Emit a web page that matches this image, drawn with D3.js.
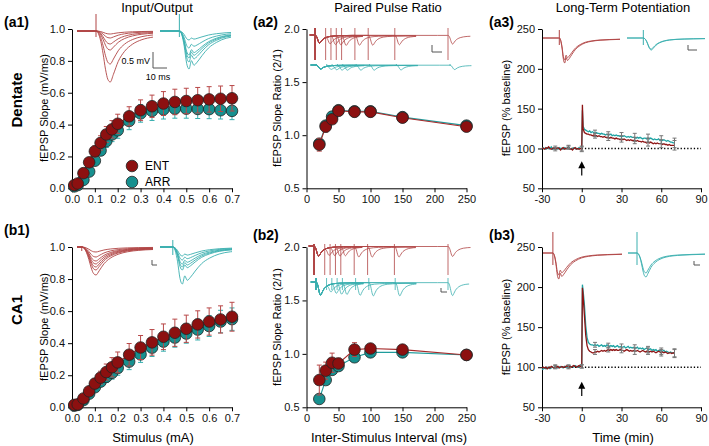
<!DOCTYPE html>
<html>
<head>
<meta charset="utf-8">
<script src="https://cdn.jsdelivr.net/npm/d3@7"></script>
<style>
  body { margin: 0; background: #fff; }
  svg { font-family: "Liberation Sans", Arial, sans-serif; }
  .axis path, .axis line { stroke: #000; stroke-width: 1; }
  .axis text { font-size: 11px; fill: #111; }
</style>
</head>
<body>
<script>
// ---- input/output data ----
var stim = [0.01, 0.025, 0.05, 0.075, 0.1, 0.125, 0.15, 0.175, 0.2, 0.25, 0.3, 0.35, 0.4, 0.45, 0.5, 0.55, 0.6, 0.65, 0.7];
var dgEnt    = [0.02, 0.03, 0.095, 0.163, 0.232, 0.285, 0.338, 0.37, 0.405, 0.452, 0.49, 0.515, 0.532, 0.542, 0.548, 0.553, 0.558, 0.562, 0.565];
var dgEntErr = [0.005, 0.008, 0.015, 0.025, 0.035, 0.045, 0.05, 0.055, 0.06, 0.06, 0.065, 0.07, 0.075, 0.08, 0.08, 0.08, 0.08, 0.08, 0.08];
var dgArr    = [0.012, 0.02, 0.053, 0.105, 0.173, 0.237, 0.296, 0.338, 0.364, 0.423, 0.47, 0.486, 0.495, 0.5, 0.5, 0.498, 0.497, 0.49, 0.486];
var dgArrErr = [0.005, 0.008, 0.012, 0.02, 0.025, 0.03, 0.04, 0.045, 0.05, 0.055, 0.055, 0.06, 0.06, 0.06, 0.06, 0.06, 0.06, 0.055, 0.055];
var caEnt    = [0.015, 0.018, 0.055, 0.1, 0.148, 0.185, 0.22, 0.25, 0.28, 0.328, 0.373, 0.405, 0.44, 0.465, 0.49, 0.517, 0.535, 0.548, 0.565];
var caEntErr = [0.005, 0.008, 0.015, 0.02, 0.03, 0.04, 0.05, 0.06, 0.065, 0.07, 0.075, 0.08, 0.08, 0.085, 0.085, 0.085, 0.085, 0.085, 0.09];
var caArr    = [0.01, 0.015, 0.045, 0.085, 0.125, 0.16, 0.19, 0.215, 0.245, 0.285, 0.33, 0.372, 0.41, 0.435, 0.46, 0.485, 0.507, 0.535, 0.55];
var caArrErr = [0.005, 0.008, 0.01, 0.015, 0.02, 0.03, 0.035, 0.04, 0.045, 0.05, 0.05, 0.055, 0.06, 0.06, 0.06, 0.065, 0.065, 0.07, 0.07];

// ---- paired pulse data ----
var isi = [20, 30, 40, 50, 75, 100, 150, 250];
var ppDgEnt    = [0.91, 1.08, 1.15, 1.23, 1.22, 1.22, 1.165, 1.08];
var ppDgEntErr = [0.06, 0.05, 0.03, 0.02, 0.02, 0.02, 0.02, 0.02];
var ppDgArr    = [0.92, 1.09, 1.175, 1.235, 1.225, 1.225, 1.17, 1.09];
var ppDgArrErr = [0.04, 0.03, 0.03, 0.02, 0.02, 0.02, 0.02, 0.02];
var ppCaEnt    = [0.755, 0.843, 0.917, 0.91, 1.04, 1.05, 1.04, 0.99];
var ppCaEntErr = [0.14, 0.08, 0.09, 0.05, 0.065, 0.03, 0.03, 0.02];
var ppCaArr    = [0.578, 0.755, 0.85, 0.886, 0.968, 1.014, 1.014, 0.99];
var ppCaArrErr = [0.03, 0.04, 0.03, 0.03, 0.03, 0.03, 0.02, 0.02];

// ---- LTP data (one sample per minute, peak at 0.5 min) ----
var ltpTime = d3.range(-30, 1).concat([0.5], d3.range(1, 71));
var ltpDgEnt = [101,100,99,101,100,102,100,99,100,101,99,100,101,100,98,100,101,99,100,100,101,99,100,98,100,101,99,100,99,100,99,
  155,
  125,120,119,118,118,117,117,116,117,116,
  116,115,116,115,115,114,115,114,114,114,
  113,114,113,113,112,113,112,112,111,112,
  111,112,111,110,111,110,111,110,110,110,
  109,110,109,109,108,109,108,108,107,108,
  107,108,107,106,107,106,107,106,106,106,
  105,106,105,105,104,105,104,104,104,104];
var ltpDgArr = [100,101,100,99,101,100,100,102,99,100,101,100,99,101,100,100,99,101,100,100,102,100,99,100,101,100,100,99,101,100,100,
  148,
  128,124,123,122,121,122,120,121,120,119,
  120,119,119,118,119,118,118,117,118,117,
  117,118,116,117,116,117,116,116,115,116,
  115,116,115,114,115,114,115,114,114,114,
  113,114,113,114,113,112,113,113,112,113,
  112,113,112,111,112,111,111,112,110,111,
  110,111,110,109,110,109,108,108,107,107];
var ltpCaEnt = [99,100,99,100,98,100,99,101,100,99,100,100,101,99,100,101,100,100,101,102,100,101,100,101,102,101,100,101,102,101,101,
  199,
  190,165,140,127,122,120,119,118,118,119,
  119,120,119,120,121,120,121,120,121,122,
  121,122,121,122,121,122,121,121,122,121,
  121,120,121,122,121,120,121,120,121,120,
  120,121,120,119,120,121,120,119,120,120,
  119,120,119,120,119,118,119,120,119,118,
  119,118,119,118,117,118,118,117,118,117];
var ltpCaArr = [97,98,99,98,100,99,98,99,100,99,101,100,99,100,101,100,99,101,100,100,101,102,100,101,100,102,101,100,101,102,101,
  203,
  196,178,152,137,131,129,128,128,127,128,
  127,128,126,127,128,126,127,126,128,127,
  126,127,126,127,125,126,127,125,126,125,
  125,126,124,125,126,124,125,124,125,124,
  124,125,123,124,123,124,122,123,124,122,
  122,123,121,122,121,122,120,121,121,120,
  120,121,119,120,119,118,119,118,118,118];
var ltpErrTime = [-20, -10, 0, 10, 20, 30, 40, 50, 60, 70];
var ltpDgEntErr = [2, 2, 3, 3, 4, 4, 4, 5, 5, 6];
var ltpDgArrErr = [2, 2, 3, 4, 4, 4, 5, 5, 5, 6];
var ltpCaEntErr = [2, 2, 2, 3, 3, 3, 4, 4, 4, 5];
var ltpCaArrErr = [2, 2, 2, 3, 3, 4, 4, 4, 4, 5];
var tetanusAt = 0;

// ---- tick labels ----
var ioTicksX = [0, 0.1, 0.2, 0.3, 0.4, 0.5, 0.6, 0.7];
var ioTicksY = [0, 0.2, 0.4, 0.6, 0.8, 1.0];
var ppTicksX = [0, 50, 100, 150, 200, 250];
var ppTicksY = [0.5, 1.0, 1.5, 2.0];
var ltpTicksX = [-30, 0, 30, 60, 90];
var ltpTicksY = [50, 100, 150, 200, 250];

// ---- example trace shape (ms after stimulus, normalised) ----
var tmplT     = [-20, -1, 0, 1.5, 3, 4.5, 6, 7.5, 9, 11, 14, 18, 23, 29, 36, 45, 55, 70];
var tmplEpsp  = [0, 0, 0, -0.05, -0.2, -0.45, -0.75, -0.95, -1, -0.85, -0.6, -0.4, -0.26, -0.17, -0.12, -0.09, -0.07, -0.05];
var tmplSpike = [0, 0, 0, -0.1, -0.4, -0.85, -1, -0.78, -0.9, -0.82, -0.65, -0.45, -0.3, -0.19, -0.13, -0.09, -0.07, -0.05];

var entFill = "#8c1010", arrFill = "#17908f";
var entLine = "#a62a2a", arrLine = "#1f9c9c";
var entErrC = "#b84848", arrErrC = "#35aeae";
var entTrace = "#b04444", arrTrace = "#3aafaf";

var svg = d3.select("body").append("svg").attr("width", 709).attr("height", 446);

var cols = [[72, 232], [306.5, 466.5], [542, 701]];
var rows = [[188.3, 29], [407.3, 247]];

function axes(col, row, xd, yd, xt, yt, xf, yf) {
  var x = d3.scaleLinear().domain(xd).range(cols[col]);
  var y = d3.scaleLinear().domain(yd).range(rows[row]);
  svg.append("g").attr("class", "axis")
     .attr("transform", `translate(0,${rows[row][0]})`)
     .call(d3.axisBottom(x).tickValues(xt).tickFormat(xf).tickSize(4).tickSizeOuter(0));
  svg.append("g").attr("class", "axis")
     .attr("transform", `translate(${cols[col][0]},0)`)
     .call(d3.axisLeft(y).tickValues(yt).tickFormat(yf).tickSize(4).tickSizeOuter(0));
  return { x: x, y: y };
}

function series(s, xs, ys, errs, lineC, fill, errC) {
  var g = svg.append("g");
  g.selectAll(".err").data(xs).enter().append("line")
   .attr("x1", d => s.x(d)).attr("x2", d => s.x(d))
   .attr("y1", (d, i) => s.y(ys[i] - errs[i])).attr("y2", (d, i) => s.y(ys[i] + errs[i]))
   .attr("stroke", errC).attr("stroke-width", 1);
  g.selectAll(".capT").data(xs).enter().append("line")
   .attr("x1", d => s.x(d) - 2.5).attr("x2", d => s.x(d) + 2.5)
   .attr("y1", (d, i) => s.y(ys[i] + errs[i])).attr("y2", (d, i) => s.y(ys[i] + errs[i]))
   .attr("stroke", errC).attr("stroke-width", 1);
  g.selectAll(".capB").data(xs).enter().append("line")
   .attr("x1", d => s.x(d) - 2.5).attr("x2", d => s.x(d) + 2.5)
   .attr("y1", (d, i) => s.y(ys[i] - errs[i])).attr("y2", (d, i) => s.y(ys[i] - errs[i]))
   .attr("stroke", errC).attr("stroke-width", 1);
  g.append("path").datum(xs)
   .attr("d", d3.line().x(d => s.x(d)).y((d, i) => s.y(ys[i])))
   .attr("fill", "none").attr("stroke", lineC).attr("stroke-width", 1.1);
  g.selectAll("circle").data(xs).enter().append("circle")
   .attr("cx", d => s.x(d)).attr("cy", (d, i) => s.y(ys[i])).attr("r", 5.8)
   .attr("fill", fill).attr("stroke", "#222").attr("stroke-width", 0.8);
}

function ltpSeries(s, ys, color) {
  svg.append("path").datum(ltpTime)
     .attr("d", d3.line().x(d => s.x(d)).y((d, i) => s.y(ys[i])))
     .attr("fill", "none").attr("stroke", color).attr("stroke-width", 1.3);
}

function ltpErrors(s, ys, errs) {
  var g = svg.append("g").attr("stroke", "#777").attr("stroke-width", 1);
  ltpErrTime.forEach(function (t, i) {
    var v = ys[ltpTime.indexOf(t)];
    g.append("line").attr("x1", s.x(t)).attr("x2", s.x(t)).attr("y1", s.y(v - errs[i])).attr("y2", s.y(v + errs[i]));
    g.append("line").attr("x1", s.x(t) - 2).attr("x2", s.x(t) + 2).attr("y1", s.y(v - errs[i])).attr("y2", s.y(v - errs[i]));
    g.append("line").attr("x1", s.x(t) - 2).attr("x2", s.x(t) + 2).attr("y1", s.y(v + errs[i])).attr("y2", s.y(v + errs[i]));
  });
}

function ltpExtras(s, from, to) {
  svg.append("line").attr("x1", s.x(-30)).attr("x2", s.x(90))
     .attr("y1", s.y(100)).attr("y2", s.y(100))
     .attr("stroke", "#000").attr("stroke-width", 1.3).attr("stroke-dasharray", "1.3,2");
  var ax = s.x(tetanusAt);
  svg.append("line").attr("x1", ax).attr("x2", ax).attr("y1", s.y(from)).attr("y2", s.y(to) + 5)
     .attr("stroke", "#000").attr("stroke-width", 1.2);
  svg.append("path").attr("d", `M${ax},${s.y(to)}L${ax - 3.5},${s.y(to) + 7}L${ax + 3.5},${s.y(to) + 7}Z`)
     .attr("fill", "#000");
}

function traceInset(o) {
  var tx = d3.scaleLinear().domain(o.t).range(o.x);
  var sh = d3.scaleLinear().domain(tmplT).range(o.shape).clamp(true);
  var ts = [o.t[0]].concat(tmplT.filter(t => t > o.t[0] && t < o.t[1]), [o.t[1]]);
  var g = svg.append("g");
  o.depths.forEach(function (dep) {
    var ty = d3.scaleLinear().domain([0, -1]).range([o.base, o.base + dep]);
    g.append("path").datum(ts)
     .attr("d", d3.line().x(t => tx(t)).y(t => ty(sh(t))).curve(d3.curveMonotoneX))
     .attr("fill", "none").attr("stroke", o.color).attr("stroke-width", 0.9);
  });
  g.append("line").attr("x1", tx(0)).attr("x2", tx(0))
   .attr("y1", o.base - o.art[0]).attr("y2", o.base + o.art[1])
   .attr("stroke", o.color).attr("stroke-width", 1);
}

function ppInset(o) {
  var tx = d3.scaleLinear().domain([0, 250]).range(o.x);
  var sh = d3.scaleLinear().domain(tmplT).range(tmplEpsp).clamp(true);
  var ty = d3.scaleLinear().domain([0, -1]).range([o.base, o.base + o.depth]);
  var g = svg.append("g");
  isi.forEach(function (s, i) {
    var end = o.ends[i];
    var ts = Array.from(new Set([-10].concat(tmplT, tmplT.map(t => t + s), [end])))
                  .filter(t => t >= -10 && t <= end).sort(d3.ascending);
    g.append("path").datum(ts)
     .attr("d", d3.line().x(t => tx(t)).y(t => ty(sh(t) + o.ratio[i] * sh(t - s))).curve(d3.curveMonotoneX))
     .attr("fill", "none").attr("stroke", o.color).attr("stroke-width", 0.8);
    [0, s].forEach(function (a) {
      g.append("line").attr("x1", tx(a)).attr("x2", tx(a))
       .attr("y1", o.base - o.art[0]).attr("y2", o.base + o.art[1])
       .attr("stroke", o.color).attr("stroke-width", 0.8);
    });
  });
}

function scaleBar(x, y, w, h) {
  svg.append("path").attr("d", `M${x},${y}V${y + h}H${x + w}`)
     .attr("fill", "none").attr("stroke", "#555").attr("stroke-width", 1);
}

// ---- panels ----
var f1 = d3.format(".1f"), f0 = d => String(d);
var a1 = axes(0, 0, [0, 0.7], [0, 1], ioTicksX, ioTicksY, f1, f1);
var b1 = axes(0, 1, [0, 0.7], [0, 1], ioTicksX, ioTicksY, f1, f1);
var a2 = axes(1, 0, [0, 250], [0.5, 2], ppTicksX, ppTicksY, f0, f1);
var b2 = axes(1, 1, [0, 250], [0.5, 2], ppTicksX, ppTicksY, f0, f1);
var a3 = axes(2, 0, [-30, 90], [50, 250], ltpTicksX, ltpTicksY, f0, f0);
var b3 = axes(2, 1, [-30, 90], [50, 250], ltpTicksX, ltpTicksY, f0, f0);

// insets
traceInset({ t: [-12, 36], x: [77, 153], base: 31, depths: [51, 33, 19, 13, 7, 3], shape: tmplEpsp, color: entTrace, art: [17, 6] });
traceInset({ t: [-12, 32], x: [160, 231], base: 31, depths: [38, 31, 27, 24, 17, 9], shape: tmplSpike, color: arrTrace, art: [17, 6] });
traceInset({ t: [-3, 45], x: [77, 153], base: 247, depths: [28, 23, 20, 17, 14, 10, 5], shape: tmplEpsp, color: entTrace, art: [0, 4] });
traceInset({ t: [-8, 37], x: [160, 232], base: 247, depths: [37, 23, 20, 17, 13, 9], shape: tmplSpike, color: arrTrace, art: [7, 8] });
traceInset({ t: [-18, 67], x: [543, 620], base: 38, depths: [25, 22], shape: tmplSpike, color: entTrace, art: [8, 7] });
traceInset({ t: [-18, 68], x: [627, 705], base: 38, depths: [12, 11], shape: tmplEpsp, color: arrTrace, art: [8, 7] });
traceInset({ t: [-10, 70], x: [543, 622], base: 253, depths: [26, 22], shape: tmplSpike, color: entTrace, art: [21, 12] });
traceInset({ t: [-9, 68], x: [628, 705], base: 253, depths: [24, 20], shape: tmplEpsp, color: arrTrace, art: [21, 12] });

var ppEnds = [90, 90, 90, 90, 190, 190, 190, 292];
ppInset({ x: [315, 448], base: 35, depth: 8, ratio: ppDgEnt, ends: ppEnds, color: entTrace, art: [7, 25] });
ppInset({ x: [316, 450], base: 65, depth: 4, ratio: ppDgArr, ends: [90, 90, 90, 90, 190, 190, 190, 290], color: arrTrace, art: [1, 1] });
ppInset({ x: [314, 448], base: 246, depth: 10, ratio: ppCaEnt, ends: ppEnds, color: entTrace, art: [2, 29] });
ppInset({ x: [316, 448], base: 282, depth: 13, ratio: ppCaArr, ends: [90, 90, 90, 90, 190, 190, 190, 290], color: arrTrace, art: [4, 8] });

scaleBar(153, 52, 14, 16);
svg.append("text").attr("x", 150).attr("y", 64).attr("text-anchor", "end").attr("font-size", 9).text("0.5 mV");
svg.append("text").attr("x", 158).attr("y", 80).attr("text-anchor", "middle").attr("font-size", 9).text("10 ms");
scaleBar(432, 45, 10, 7);
scaleBar(152, 260, 5, 5);
scaleBar(441, 288, 6, 4);
scaleBar(688, 45, 9, 5);
scaleBar(694, 261, 6, 4);

// data
series(a1, stim, dgArr, dgArrErr, arrLine, arrFill, arrErrC);
series(a1, stim, dgEnt, dgEntErr, entLine, entFill, entErrC);
series(b1, stim, caArr, caArrErr, arrLine, arrFill, arrErrC);
series(b1, stim, caEnt, caEntErr, entLine, entFill, entErrC);
series(a2, isi, ppDgArr, ppDgArrErr, arrLine, arrFill, arrErrC);
series(a2, isi, ppDgEnt, ppDgEntErr, entLine, entFill, entErrC);
series(b2, isi, ppCaArr, ppCaArrErr, arrLine, arrFill, arrErrC);
series(b2, isi, ppCaEnt, ppCaEntErr, entLine, entFill, entErrC);

ltpExtras(a3, 66, 84);
ltpSeries(a3, ltpDgArr, "#1fa3a3");
ltpSeries(a3, ltpDgEnt, "#8e1414");
ltpErrors(a3, ltpDgArr, ltpDgArrErr);
ltpErrors(a3, ltpDgEnt, ltpDgEntErr);
ltpExtras(b3, 64, 82);
ltpSeries(b3, ltpCaArr, "#1fa3a3");
ltpSeries(b3, ltpCaEnt, "#8e1414");
ltpErrors(b3, ltpCaArr, ltpCaArrErr);
ltpErrors(b3, ltpCaEnt, ltpCaEntErr);

// legend
[["ENT", entFill], ["ARR", arrFill]].forEach(function (d, i) {
  svg.append("circle").attr("cx", 132).attr("cy", 166 + i * 16).attr("r", 5.8)
     .attr("fill", d[1]).attr("stroke", "#222").attr("stroke-width", 0.8);
  svg.append("text").attr("x", 145).attr("y", 170 + i * 16).attr("font-size", 12).text(d[0]);
});

// titles and labels
[["Input/Output", 157], ["Paired Pulse Ratio", 388], ["Long-Term Potentiation", 623]].forEach(function (d) {
  svg.append("text").attr("x", d[1]).attr("y", 12).attr("text-anchor", "middle").attr("font-size", 13).text(d[0]);
});
[["Stimulus (mA)", 153], ["Inter-Stimulus Interval (ms)", 389], ["Time (min)", 623]].forEach(function (d) {
  svg.append("text").attr("x", d[1]).attr("y", 442).attr("text-anchor", "middle").attr("font-size", 13).text(d[0]);
});
[["(a1)", 4, 27], ["(a2)", 253, 27], ["(a3)", 489, 27], ["(b1)", 4, 235], ["(b2)", 253, 240], ["(b3)", 489, 240]].forEach(function (d) {
  svg.append("text").attr("x", d[1]).attr("y", d[2]).attr("font-size", 14).attr("font-weight", "bold").text(d[0]);
});
function yTitle(txt, x, y) {
  svg.append("text").attr("transform", `translate(${x},${y}) rotate(-90)`)
     .attr("text-anchor", "middle").attr("font-size", 11).text(txt);
}
yTitle("fEPSP Slope (mV/ms)", 48, 108);
yTitle("fEPSP Slope (mV/ms)", 48, 327);
yTitle("fEPSP Slope Ratio (2/1)", 281, 108);
yTitle("fEPSP Slope Ratio (2/1)", 281, 327);
yTitle("fEPSP (% baseline)", 510, 108);
yTitle("fEPSP (% baseline)", 510, 327);
svg.append("text").attr("transform", "translate(22,100) rotate(-90)")
   .attr("text-anchor", "middle").attr("font-size", 15).attr("font-weight", "bold").text("Dentate");
svg.append("text").attr("transform", "translate(22,310) rotate(-90)")
   .attr("text-anchor", "middle").attr("font-size", 15).attr("font-weight", "bold").text("CA1");
</script>
</body>
</html>
